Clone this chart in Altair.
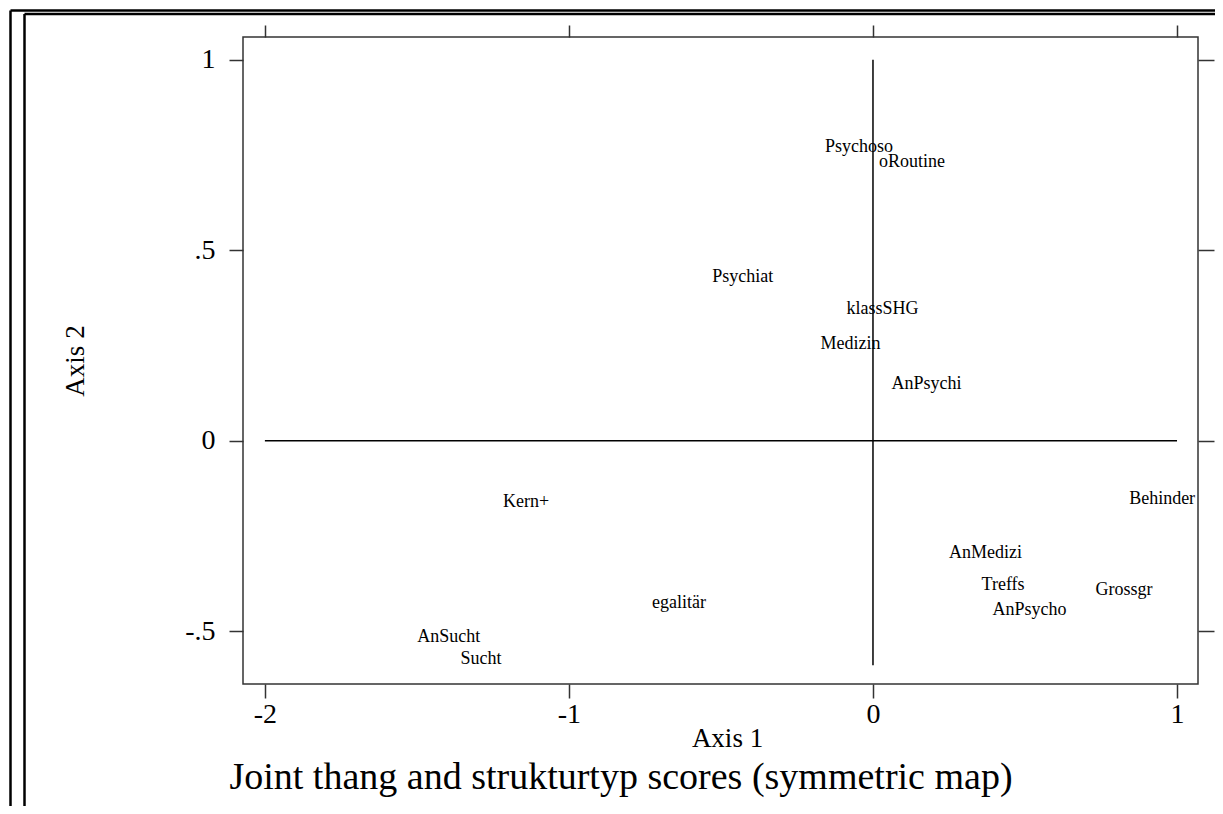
import altair as alt
import pandas as pd

# ---- data ----
labels = ["Psychoso", "oRoutine", "Psychiat", "klassSHG", "Medizin", "AnPsychi",
          "Kern+", "egalitär", "AnSucht", "Sucht", "Behinder", "AnMedizi",
          "Treffs", "Grossgr", "AnPsycho"]
axis1 = [-0.046, 0.128, -0.428, 0.031, -0.074, 0.176,
         -1.141, -0.638, -1.395, -1.289, 0.951, 0.370,
         0.428, 0.826, 0.515]
axis2 = [0.772, 0.733, 0.431, 0.347, 0.255, 0.150,
         -0.160, -0.426, -0.515, -0.573, -0.152, -0.294,
         -0.378, -0.391, -0.444]

x_ticks = [-2, -1, 0, 1]
x_tick_labels = ["-2", "-1", "0", "1"]
y_ticks = [-0.5, 0, 0.5, 1]
y_tick_labels = ["-.5", "0", ".5", "1"]

x_domain = [-2.072, 1.069]
y_domain = [-0.639, 1.060]

h_ref_x = [-2, 1]
h_ref_y = [0]
v_ref_x = [0]
v_ref_y = [-0.59, 1]

title_text = "Joint thang and strukturtyp scores (symmetric map)"
FONT = "Liberation Serif"
W, H = 955, 647


def label_expr(vals, texts):
    parts = [f"datum.value == {v} ? '{t}'" for v, t in zip(vals, texts)]
    return " : ".join(parts) + " : ''"


xs = alt.Scale(domain=x_domain, nice=False, zero=False)
ys = alt.Scale(domain=y_domain, nice=False, zero=False)

df = pd.DataFrame({"label": labels, "axis1": axis1, "axis2": axis2})

pts = alt.Chart(df).mark_text(
    font=FONT, fontSize=18, color="black", align="center", baseline="middle"
).encode(
    x=alt.X("axis1:Q", scale=xs, axis=alt.Axis(
        orient="bottom", values=x_ticks, labelExpr=label_expr(x_ticks, x_tick_labels),
        tickSize=14, labelPadding=2, title="Axis 1",
        titleX=484, titleY=62, titleBaseline="alphabetic")),
    y=alt.Y("axis2:Q", scale=ys, axis=alt.Axis(
        orient="left", values=y_ticks, labelExpr=label_expr(y_ticks, y_tick_labels),
        tickSize=14, labelPadding=14, labelBaseline="middle", title="Axis 2",
        titleX=-159.5, titleY=H / 2, titleBaseline="alphabetic", titleAngle=-90)),
    text="label:N",
)

hdf = pd.DataFrame({"x": [h_ref_x[0]], "x2": [h_ref_x[1]], "y": h_ref_y})
hline = alt.Chart(hdf).mark_rule(color="black", strokeWidth=1.5).encode(
    x=alt.X("x:Q", scale=xs, axis=None),
    x2="x2:Q",
    y=alt.Y("y:Q", scale=ys, axis=None),
)

vdf = pd.DataFrame({"x": v_ref_x, "y": [v_ref_y[0]], "y2": [v_ref_y[1]]})
vline = alt.Chart(vdf).mark_rule(color="black", strokeWidth=1.5).encode(
    x=alt.X("x:Q", scale=xs, axis=alt.Axis(
        orient="top", values=x_ticks, labels=False, tickSize=12, title=None)),
    y=alt.Y("y:Q", scale=ys, axis=alt.Axis(
        orient="right", values=y_ticks, labels=False, tickSize=16, title=None)),
    y2="y2:Q",
)

one = pd.DataFrame({"k": [0]})


def vrule(px, py0, py1):
    return alt.Chart(one).mark_rule(color="black", strokeWidth=2.5).encode(
        x=alt.value(px), y=alt.value(py0), y2=alt.value(py1))


def hrule(py, px0, px1):
    return alt.Chart(one).mark_rule(color="black", strokeWidth=2.5).encode(
        y=alt.value(py), x=alt.value(px0), x2=alt.value(px1))


frames = [
    vrule(-232.5, -26.5, 800), hrule(-26.5, -232.5, 1100),
    vrule(-218.5, -23.0, 800), hrule(-23.0, -218.5, 1100),
]

title = alt.Chart(one).mark_text(
    font=FONT, fontSize=38, color="black", align="center", baseline="alphabetic"
).encode(x=alt.value(621 - 243), y=alt.value(789 - 37), text=alt.value(title_text))

chart = alt.layer(*frames, hline, vline, pts, title).resolve_scale(
    x="independent", y="independent"
).resolve_axis(
    x="independent", y="independent"
).properties(
    width=W, height=H,
    padding={"left": 235, "top": 29, "right": 17, "bottom": 122},
    autosize=alt.AutoSizeParams(type="none"),
    background="white",
).configure_view(
    stroke="#333333", strokeWidth=1.5
).configure_axis(
    domain=False, grid=False, ticks=True, tickColor="#333333", tickWidth=1.5,
    labelFont=FONT, labelFontSize=28, labelColor="black",
    titleFont=FONT, titleFontSize=27, titleFontWeight="normal", titleColor="black",
)

chart.save("out.html", embed_options={"renderer": "svg", "actions": False})
